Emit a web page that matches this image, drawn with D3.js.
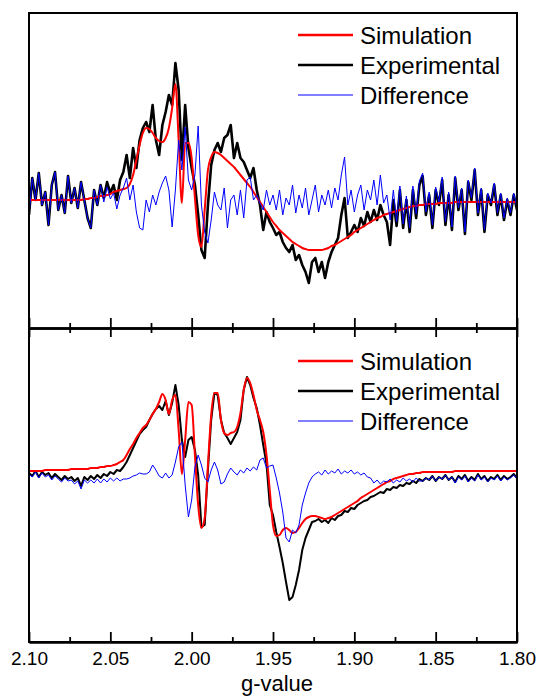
<!DOCTYPE html>
<html>
<head>
<meta charset="utf-8">
<script src="https://cdn.jsdelivr.net/npm/d3@7"></script>
<style>
  body { margin: 0; background: #fff; }
  svg { display: block; font-family: "Liberation Sans", Arial, sans-serif; }
</style>
</head>
<body>
<svg width="537" height="696"></svg>
<script>
// spectra sampled every 0.002 in g, from 2.100 down to 1.800 (151 points)
var gStart = 2.100, gStep = 0.002, nPts = 151;
var gValues = d3.range(nPts).map(function (i) { return +(gStart - i * gStep).toFixed(3); });

// upper panel (arbitrary intensity units)
var expTop = [
  -15,22,0,27,-5,8,-25,15,28,-10,
  5,-13,24,-3,12,-8,18,0,-18,-28,
  10,-5,15,2,18,7,15,0,20,28,
  45,22,52,32,60,72,78,68,95,60,
  45,75,88,105,95,137,110,40,95,52,
  32,15,-15,-50,-58,-5,35,50,57,48,
  62,65,75,42,57,42,38,30,22,32,
  10,-5,-30,-12,-22,-28,-35,-32,-42,-48,
  -52,-45,-60,-55,-65,-72,-83,-62,-58,-72,
  -62,-78,-62,-52,-45,-38,-15,2,-38,-32,
  -25,-32,-18,-26,-12,-22,-10,-20,-5,-15,
  -22,-45,0,-26,10,-28,0,-32,10,-18,
  15,24,-15,5,-28,10,-5,20,-25,5,
  -30,22,-10,10,-34,18,0,30,-15,10,
  -32,5,-5,15,-15,5,-20,0,-15,5,
  -10];
var simTop = [
  0,0,0,0,0,0,0,0,0,0,
  0,0,0,0,0,0,0,1,1,2,
  2,3,4,4,5,6,8,9,10,11,
  12,16,25,40,55,67,72,71,67,62,
  59,58,62,72,92,116,60,-3,57,57,
  42,2,-35,-47,-10,30,43,48,47,45,
  42,39,36,33,29,25,21,17,13,8,
  3,-2,-7,-12,-17,-22,-26,-30,-33,-36,
  -39,-42,-44,-46,-48,-49,-50,-50,-50,-50,
  -50,-49,-48,-46,-45,-43,-41,-39,-37,-35,
  -32,-30,-28,-26,-24,-22,-20,-18,-17,-15,
  -14,-13,-12,-11,-10,-9,-8,-7,-6,-6,
  -5,-5,-4,-4,-4,-4,-3,-3,-3,-3,
  -3,-2,-2,-2,-2,-2,-2,-2,-2,-2,
  -2,-2,-2,-2,-2,-2,-2,-2,-2,-2,
  -2];
var diffTop = [
  -15,22,0,27,-5,8,-25,15,28,-10,
  5,-13,24,-3,12,-8,18,0,-18,-28,
  10,-5,15,-2,13,1,7,-9,5,12,
  22,0,15,-12,-28,-30,0,-12,5,-5,
  8,17,24,10,-27,10,60,30,73,20,
  10,25,74,-5,-32,-43,-20,8,-5,-10,
  12,-28,0,5,-15,10,-18,20,23,0,
  5,-3,-10,10,-5,5,-10,10,-15,2,
  -5,15,-13,5,-8,12,-15,0,15,-12,
  5,-5,10,-8,12,0,25,43,-5,10,
  -12,5,15,-10,10,0,20,-5,25,-3,
  5,-20,10,-22,14,-24,4,-28,14,-14,
  19,27,-12,8,-25,13,-2,23,-22,8,
  -27,24,-8,12,-32,20,2,32,-13,12,
  -30,7,-3,17,-13,7,-18,2,-13,7,
  -8];

// lower panel
var expBot = [
  -1,-4,1,-5,0,-3,-1,-6,-2,-5,
  -8,-4,-7,-5,-9,-6,-14,-5,-8,-4,
  -7,-3,-6,-2,-4,0,-2,2,1,5,
  10,17,24,31,38,42,45,52,58,63,
  66,62,71,57,69,87,67,32,15,32,
  35,22,-3,-55,-53,2,52,79,77,52,
  39,34,28,34,40,52,82,95,87,74,
  64,47,27,8,-33,-43,-60,-75,-91,-110,
  -128,-125,-113,-98,-78,-66,-58,-50,-49,-47,
  -50,-48,-51,-46,-48,-44,-43,-39,-40,-36,
  -37,-33,-31,-29,-28,-25,-24,-22,-20,-21,
  -17,-18,-15,-16,-13,-14,-11,-12,-9,-11,
  -7,-9,-6,-8,-4,-9,-5,-7,-3,-8,
  -5,-10,-4,-7,-3,-9,-5,-8,-2,-7,
  -4,-9,-5,-7,-3,-8,-4,-7,-5,-2,
  -6];
var simBot = [
  1,1,1,1,1,2,2,2,2,2,
  2,2,2,3,3,3,3,3,3,4,
  4,4,5,5,6,6,7,8,10,12,
  17,23,28,34,39,44,47,52,58,63,
  70,78,72,58,72,77,42,-2,32,70,
  67,17,-33,-56,-46,7,57,79,79,52,
  39,37,39,40,45,59,82,94,89,77,
  62,52,40,17,-18,-53,-64,-63,-58,-56,
  -58,-61,-60,-56,-51,-47,-45,-44,-44,-45,
  -46,-47,-46,-45,-43,-41,-39,-37,-35,-33,
  -31,-29,-26,-24,-22,-20,-18,-16,-14,-12,
  -10,-9,-7,-6,-5,-4,-3,-2,-2,-1,
  -1,0,0,0,0,0,0,0,0,0,
  0,1,1,1,1,1,1,1,1,1,
  1,1,1,1,1,1,1,1,1,1,
  1];
var diffBot = [
  -2,-5,0,-6,-1,-5,-3,-8,-4,-7,
  -10,-6,-9,-8,-12,-9,-17,-8,-11,-8,
  -11,-7,-11,-7,-10,-6,-9,-6,-9,-7,
  -7,-6,-4,-3,-1,-2,-2,0,7,2,
  -4,-6,-1,-6,-3,10,25,30,-13,-45,
  -28,5,17,7,-6,-10,2,10,2,-12,
  -10,-2,4,0,-3,2,-1,4,1,5,
  2,12,14,4,6,7,-6,-21,-40,-66,
  -70,-58,-61,-53,-33,-21,-11,-5,-2,0,
  -3,2,-2,1,-1,3,-2,1,-1,2,
  -2,0,-3,-1,-5,-6,-11,-8,-12,-9,
  -10,-7,-11,-8,-10,-6,-9,-7,-10,-6,
  -9,-9,-6,-8,-4,-9,-5,-7,-3,-8,
  -5,-11,-5,-8,-4,-10,-6,-9,-3,-8,
  -5,-10,-6,-8,-4,-9,-5,-8,-6,-3,
  -7];

var majorTicks = [2.10, 2.05, 2.00, 1.95, 1.90, 1.85, 1.80];
var minorTicks = [2.075, 2.025, 1.975, 1.925, 1.875, 1.825];
var legendLabels = ["Simulation", "Experimental", "Difference"];
var seriesColors = ["#ff0000", "#000000", "#0000ff"];

var svg = d3.select("svg");
var plotLeft = 29, plotRight = 517, plotTop = 13, plotMid = 328, plotBottom = 642;

var x = d3.scaleLinear().domain([2.10, 1.80]).range([plotLeft, plotRight]);
var yTop = d3.scaleLinear().domain([-128, 187]).range([plotMid, plotTop]);
var yBot = d3.scaleLinear().domain([-170, 144]).range([plotBottom, plotMid]);

var defs = svg.append("defs");
defs.append("clipPath").attr("id", "clipTop").append("rect")
  .attr("x", plotLeft).attr("y", plotTop)
  .attr("width", plotRight - plotLeft).attr("height", plotMid - plotTop);
defs.append("clipPath").attr("id", "clipBot").append("rect")
  .attr("x", plotLeft).attr("y", plotMid)
  .attr("width", plotRight - plotLeft).attr("height", plotBottom - plotMid);

function drawPanel(y, clip, exp, sim, diff, expWidth) {
  var g = svg.append("g").attr("clip-path", "url(#" + clip + ")");
  var line = d3.line()
      .x(function (d, i) { return x(gValues[i]); })
      .y(function (d) { return y(d); });
  var smooth = d3.line()
      .x(function (d, i) { return x(gValues[i]); })
      .y(function (d) { return y(d); })
      .curve(d3.curveMonotoneX);
  g.append("path").attr("d", line(exp))
    .attr("fill", "none").attr("stroke", seriesColors[1])
    .attr("stroke-width", expWidth).attr("stroke-linejoin", "round");
  g.append("path").attr("d", smooth(sim))
    .attr("fill", "none").attr("stroke", seriesColors[0]).attr("stroke-width", 2);
  g.append("path").attr("d", line(diff))
    .attr("fill", "none").attr("stroke", seriesColors[2]).attr("stroke-width", 1);
}

drawPanel(yTop, "clipTop", expTop, simTop, diffTop, 2.6);
drawPanel(yBot, "clipBot", expBot, simBot, diffBot, 2);

// legends
function drawLegend(y0) {
  var lg = svg.append("g").attr("class", "legend");
  legendLabels.forEach(function (label, i) {
    var yy = y0 + i * 30;
    lg.append("line")
      .attr("x1", 298).attr("x2", 353).attr("y1", yy).attr("y2", yy)
      .attr("stroke", seriesColors[i])
      .attr("stroke-width", i == 2 ? 1.2 : 2.4);
    lg.append("text")
      .attr("x", 360).attr("y", yy).attr("dy", "0.37em")
      .attr("font-size", 24).attr("fill", "#000")
      .text(label);
  });
}
drawLegend(35);
drawLegend(361);

// axes
function styleAxis(sel) {
  sel.selectAll("path").attr("stroke", "#000").attr("stroke-width", 2);
  sel.selectAll("line").attr("stroke", "#000").attr("stroke-width", 1.8);
}

var midUp = svg.append("g").attr("transform", "translate(0," + plotMid + ")")
  .call(d3.axisTop(x).tickValues(majorTicks).tickSize(10).tickSizeOuter(0).tickFormat(""));
var midUpMinor = svg.append("g").attr("transform", "translate(0," + plotMid + ")")
  .call(d3.axisTop(x).tickValues(minorTicks).tickSize(5).tickSizeOuter(0).tickFormat(""));
var midDown = svg.append("g").attr("transform", "translate(0," + plotMid + ")")
  .call(d3.axisBottom(x).tickValues(majorTicks).tickSize(9).tickSizeOuter(0).tickFormat(""));
var midDownMinor = svg.append("g").attr("transform", "translate(0," + plotMid + ")")
  .call(d3.axisBottom(x).tickValues(minorTicks).tickSize(5).tickSizeOuter(0).tickFormat(""));
var botMinor = svg.append("g").attr("transform", "translate(0," + plotBottom + ")")
  .call(d3.axisTop(x).tickValues(minorTicks).tickSize(5).tickSizeOuter(0).tickFormat(""));
var botAxis = svg.append("g").attr("transform", "translate(0," + plotBottom + ")")
  .call(d3.axisBottom(x).tickValues(majorTicks).tickSizeInner(-10).tickSizeOuter(0)
    .tickPadding(10).tickFormat(d3.format(".2f")));
[midUp, midUpMinor, midDown, midDownMinor, botMinor, botAxis].forEach(styleAxis);
botAxis.selectAll("text")
  .attr("font-size", 19).attr("fill", "#000")
  .attr("font-family", "'Liberation Sans', Arial, sans-serif");

// frame
svg.append("rect")
  .attr("x", plotLeft).attr("y", plotTop)
  .attr("width", plotRight - plotLeft).attr("height", plotBottom - plotTop)
  .attr("fill", "none").attr("stroke", "#000").attr("stroke-width", 2);

svg.append("text")
  .attr("x", 277).attr("y", 691)
  .attr("text-anchor", "middle")
  .attr("font-size", 22).attr("fill", "#000")
  .text("g-value");
</script>
</body>
</html>
